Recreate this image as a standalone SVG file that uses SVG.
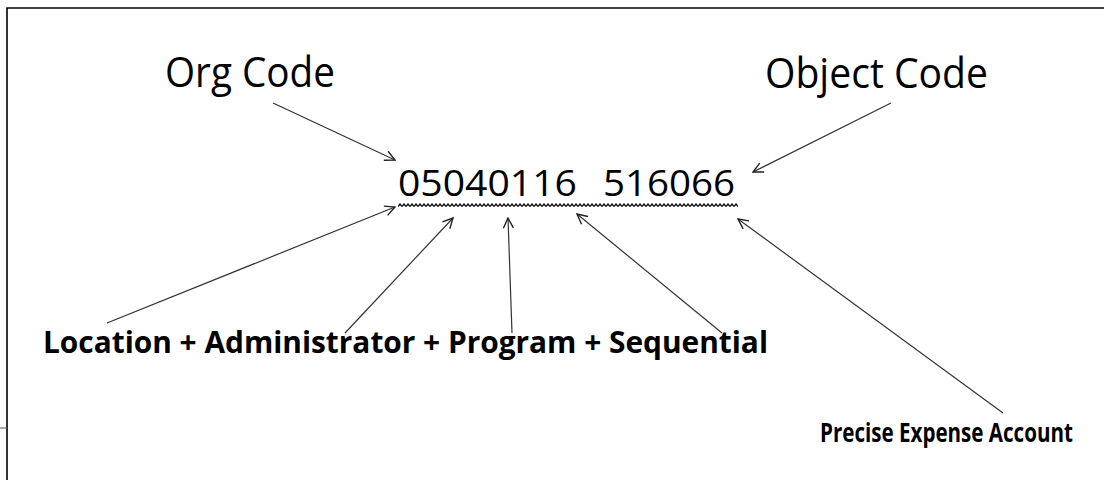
<svg xmlns="http://www.w3.org/2000/svg" width="1104" height="480" viewBox="0 0 1104 480">
<style>
.lbl{font-family:"Open Sans","Noto Sans","Liberation Sans",sans-serif;fill:#000}
.big{font-size:42px}
.num{font-size:37px}
.bold{font-size:30px;font-weight:bold}
.bold2{font-size:27px;font-weight:bold}
.conn line{stroke:#333;stroke-width:1.2;marker-end:url(#arr)}
</style>
<defs>
<marker id="arr" viewBox="0 0 12 12" refX="11" refY="6" markerWidth="12" markerHeight="12" markerUnits="userSpaceOnUse" orient="auto">
<path d="M1,1 L11,6 L1,11" fill="none" stroke="#222" stroke-width="1.4"/>
</marker>
<pattern id="wave" x="398" y="203" width="4" height="5" patternUnits="userSpaceOnUse">
<path d="M0,3.5 L2,1 L4,3.5" fill="none" stroke="#111" stroke-width="1.4"/>
</pattern>
</defs>
<rect width="1104" height="480" fill="#fff"/>
<path d="M7,490 V8 H1110" fill="none" stroke="#000" stroke-width="1.6"/>
<line x1="0" y1="428" x2="7" y2="428" stroke="#555" stroke-width="1"/>
<g id="org-code"><text class="lbl big" x="165" y="87" textLength="170" lengthAdjust="spacingAndGlyphs">Org Code</text></g>
<g id="object-code"><text class="lbl big" x="765" y="88" textLength="223" lengthAdjust="spacingAndGlyphs">Object Code</text></g>
<g id="code">
<text class="lbl num" y="196"><tspan x="398" textLength="179" lengthAdjust="spacingAndGlyphs">05040116</tspan><tspan x="603" textLength="132" lengthAdjust="spacingAndGlyphs">516066</tspan></text>
<rect x="398" y="203" width="340" height="5" fill="url(#wave)"/>
</g>
<g id="components"><text class="lbl bold" x="43" y="353" textLength="725" lengthAdjust="spacingAndGlyphs">Location + Administrator + Program + Sequential</text></g>
<g id="precise-expense-account"><text class="lbl bold2" x="820" y="442" transform="translate(820 0) scale(0.762 1) translate(-820 0)">Precise Expense Account</text></g>
<g id="connectors" class="conn">
<line x1="273" y1="103" x2="395" y2="160"/>
<line x1="891" y1="103" x2="753" y2="172"/>
<line x1="107" y1="323" x2="395" y2="207"/>
<line x1="345" y1="333" x2="453" y2="218"/>
<line x1="512" y1="333" x2="508" y2="218"/>
<line x1="722" y1="333" x2="577" y2="214"/>
<line x1="1003" y1="413" x2="738" y2="219"/>
</g>
</svg>
